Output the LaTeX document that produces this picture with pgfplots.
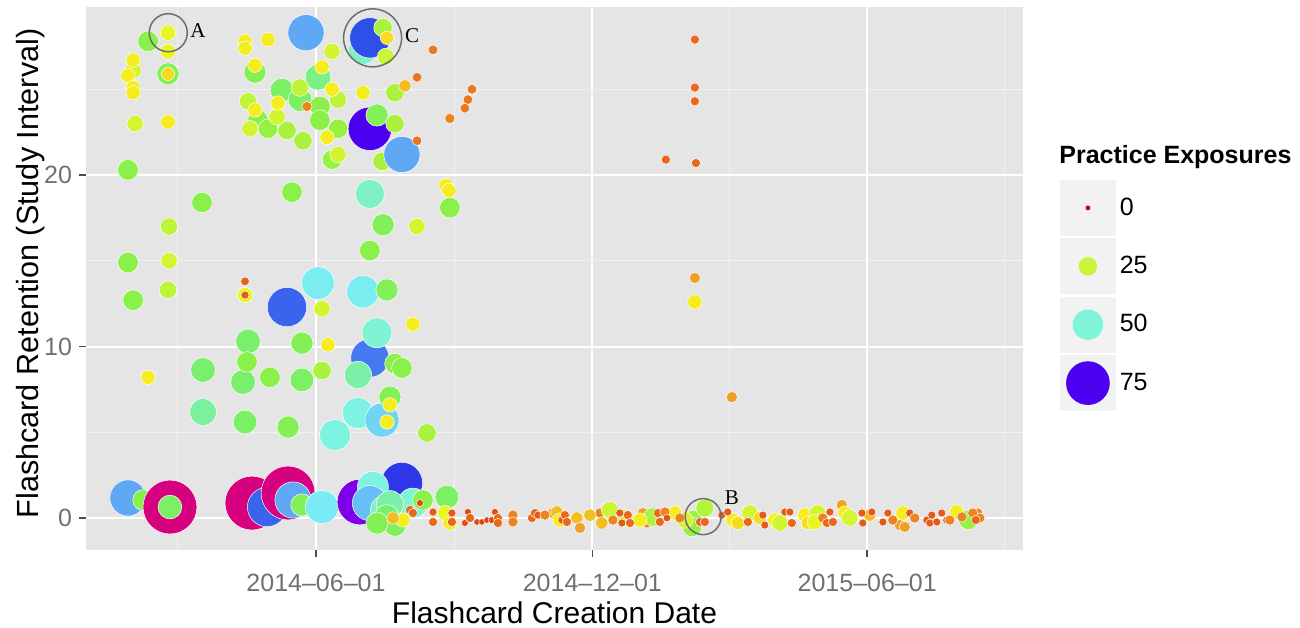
\documentclass[border=0pt]{standalone}
\usepackage{fontspec}
\setmainfont{Liberation Sans}
\newfontfamily\annfont{Liberation Serif}
\usepackage{pgfplots}
\usepackage{pgfplotstable}
\pgfplotsset{compat=1.18}
\definecolor{panelbg}{HTML}{E5E5E5}
\definecolor{gridminor}{HTML}{F2F2F2}
\definecolor{tickgray}{HTML}{707070}
\definecolor{tickc}{HTML}{4D4D4D}
\definecolor{keybg}{HTML}{F2F2F2}
\definecolor{annot}{HTML}{6E6E6E}
\definecolor{kzero}{RGB}{175,15,45}
\definecolor{ktwentyfive}{RGB}{200,245,55}
\definecolor{kfifty}{RGB}{128,245,220}
\definecolor{kseventyfive}{RGB}{75,0,240}

\pgfplotstableread{
d r e
31.1 27.3 48
35.7 28.0 70
-6.6 28.3 62
35.7 22.7 76
-19.2 12.3 68
35.7 9.33 66
1.3 13.7 55
31.1 13.2 55
40.4 10.8 50
27.8 6.12 52
12.6 4.84 52
43.7 5.71 58
35.7 18.9 48
27.8 8.34 45
-74.8 6.18 44
1.3 25.7 42
-45.0 10.3 40
-48.3 7.93 40
-74.8 8.63 40
-22.5 24.95 38
-10.6 24.4 38
-9.3 8.05 38
-47.0 5.6 38
-18.5 5.3 35
-9.3 10.2 35
47.0 13.3 35
40.4 23.5 35
44.4 17.1 35
-98.0 25.9 35
-40.4 26.0 35
49.0 7.05 35
-124.5 20.3 32
-75.5 18.4 32
35.7 15.6 32
-124.5 14.9 32
-15.9 19.0 32
88.7 18.1 32
-121.1 12.7 32
-45.7 9.1 32
-30.5 8.2 32
52.3 9.0 32
56.9 8.75 32
73.5 4.96 28
-111.2 27.8 32
2.6 24.0 32
-38.4 23.2 32
-31.8 22.7 30
-19.2 22.6 28
14.6 22.7 30
2.6 23.2 32
52.3 23.0 28
52.3 24.8 28
43.7 20.8 28
56.9 21.2 62
10.6 20.9 30
4.0 8.6 28
44.4 28.6 28
46.3 26.9 25
-98.0 28.3 22
-98.0 27.2 22
-121.1 26.1 24
-119.8 23.0 24
-97.3 17.0 26
-97.3 15.0 24
-98.0 13.3 26
66.9 17.0 24
10.6 27.2 24
-10.6 25.1 26
-45.0 24.3 26
-25.8 23.4 24
-43.7 22.7 24
-8.6 22.0 28
14.6 24.4 26
14.6 21.2 24
4.0 12.2 24
-47.0 13.0 22
-6.0 24.0 12
-98.0 25.9 18
-121.1 26.7 20
-124.5 25.8 20
-121.1 25.1 20
-121.1 24.8 20
-98.0 23.1 20
-47.0 27.8 20
-47.0 27.4 20
-31.8 27.9 20
4.0 26.3 20
-40.4 26.4 20
-40.4 23.8 20
-25.2 24.2 20
10.6 25.0 20
7.3 22.2 20
31.1 24.8 20
47.0 28.0 18
58.9 25.2 16
86.1 19.4 20
88.1 19.1 20
64.2 11.3 20
7.9 10.1 20
-111.2 8.2 20
49.0 6.6 20
47.0 5.6 20
250.9 12.6 20
250.9 14.0 14
275.4 7.05 14
250.9 27.9 10
250.9 25.1 10
250.9 24.3 10
231.7 20.9 10
251.6 20.7 10
77.5 27.3 11
66.9 25.7 11
103.3 25.0 11
100.6 24.4 11
98.6 23.9 11
88.7 23.3 12
66.9 22.0 11
-47.0 13.8 9
-47.0 13.0 8
-124.5 1.17 62
-114.5 1.05 32
-96.7 0.64 96
-96.7 0.64 38
-42.4 0.87 96
-32.4 0.64 68
-18.5 1.46 96
-15.2 1.05 62
-9.3 0.76 35
4.0 0.64 56
29.1 0.93 80
56.9 2.04 72
37.7 1.81 52
35.7 0.87 60
45.7 0.47 48
64.2 0.87 50
49.0 0.8 45
47.0 0.06 40
52.3 -0.41 36
40.4 -0.3 35
86.7 1.22 38
70.8 1.05 32
57.6 -0.12 20
51.0 0.0 16
62.3 0.47 10
85.4 0.29 22
88.7 -0.29 20
156.9 0.29 14
159.5 0.35 16
172.8 0.0 16
174.8 -0.58 14
188.0 0.29 12
189.3 -0.29 16
194.6 0.47 25
216.5 0.29 14
219.1 -0.29 12
223.1 0.06 28
237.7 0.29 20
249.6 -0.12 30
257.5 0.58 27
249.0 -0.52 30
276.1 -0.12 20
279.4 -0.29 18
287.3 0.29 24
303.9 -0.12 20
307.2 -0.29 24
323.7 0.17 20
325.7 -0.29 18
332.3 0.29 24
348.2 0.76 14
350.2 0.29 20
353.5 0.0 24
386.6 -0.41 14
388.6 0.29 20
389.9 -0.52 14
424.3 0.35 20
432.0 -0.1 30
438.2 0.29 12
439.6 0.0 12
181.4 0.17 16
204.6 0.0 24
214.6 -0.12 20
244.3 -0.12 24
161.5 -0.12 20
294.0 0.0 18
330.3 -0.23 22
366.7 0.17 16
64.2 0.29 10
68.8 0.87 6
77.5 0.35 8
77.5 -0.23 10
90.0 0.29 8
90.0 -0.23 10
100.6 0.35 6
98.6 -0.29 6
102.0 0.0 10
106.6 -0.23 5
109.9 -0.23 5
113.2 -0.12 5
116.5 -0.12 6
118.5 0.35 6
120.5 0.0 10
120.5 -0.29 10
130.4 0.17 12
130.4 -0.23 12
143.0 0.0 10
145.0 0.29 10
147.0 0.17 8
151.6 0.17 12
162.9 -0.12 8
164.8 0.17 10
166.2 -0.23 10
196.6 -0.12 12
201.2 0.29 8
202.6 -0.29 8
206.5 0.17 10
207.9 -0.29 10
226.4 0.29 10
227.7 -0.23 10
231.1 0.35 12
232.4 0.0 7
241.0 0.0 12
254.3 -0.23 10
257.5 -0.23 10
268.8 0.17 8
272.7 0.35 8
286.0 -0.23 10
295.9 0.17 8
297.2 -0.41 8
310.5 0.35 8
313.8 0.35 8
315.1 -0.29 10
335.6 0.0 12
340.3 0.35 8
338.3 -0.29 10
342.3 -0.23 10
361.5 0.29 8
362.1 -0.29 8
368.1 0.35 8
375.4 -0.23 8
378.7 0.29 8
382.0 -0.12 12
393.2 0.29 8
396.5 0.0 12
404.5 -0.12 8
406.5 -0.29 8
407.8 0.17 8
411.1 -0.23 8
414.4 0.29 8
417.7 -0.12 8
419.7 -0.12 12
427.7 0.06 12
434.9 0.29 12
436.9 -0.12 10
}\ptdata

\begin{document}
\begin{tikzpicture}
\useasboundingbox (-43pt,-38.5pt) rectangle (607pt,275pt);
\begin{axis}[
  scale only axis, width=468.5pt, height=271.5pt,
  at={(0pt,0pt)}, anchor=south west,
  xmin=-152.3, xmax=468.2, ymin=-1.866, ymax=29.8,
  xtick={0,183,365},
  xticklabels={2014--06--01,2014--12--01,2015--06--01},
  minor xtick={-91.5,91.5,274,456},
  ytick={0,10,20}, minor ytick={5,15,25},
  grid=both,
  major grid style={white, line width=1pt},
  minor grid style={gridminor, line width=0.5pt},
  axis background/.style={fill=panelbg},
  axis line style={draw=none},
  tick pos=left, tick align=outside,
  major tick length=3.5pt, minor tick length=0pt,
  tick style={tickc, line width=0.7pt},
  /pgf/number format/assume math mode=true,
  tick label style={font=\fontsize{12.5}{15}\selectfont, text=tickgray},
  xticklabel style={anchor=base, yshift=-17.2pt},
  yticklabel style={anchor=east, xshift=0pt},
  xlabel={Flashcard Creation Date},
  ylabel={Flashcard Retention (Study Interval)},
  every axis x label/.style={at={(axis description cs:0.5,0)}, yshift=-36.8pt, anchor=base, font=\fontsize{15}{18}\selectfont},
  every axis y label/.style={at={(axis description cs:0,0.5)}, xshift=-23.5pt, yshift=2.5pt, rotate=90, anchor=base, font=\fontsize{15.3}{18}\selectfont},
  colormap={gg}{rgb255(0pt)=(190,20,40) rgb255(3pt)=(215,50,25) rgb255(6pt)=(225,75,20)
    rgb255(10pt)=(232,105,28) rgb255(14pt)=(240,160,40) rgb255(18pt)=(245,220,30)
    rgb255(21pt)=(245,245,30) rgb255(25pt)=(200,245,55) rgb255(31pt)=(140,240,70)
    rgb255(40pt)=(120,240,110) rgb255(46pt)=(125,240,180) rgb255(51pt)=(128,245,220)
    rgb255(56pt)=(120,235,245) rgb255(61pt)=(100,180,245) rgb255(66pt)=(70,120,240)
    rgb255(71pt)=(40,70,230) rgb255(76pt)=(75,0,240) rgb255(82pt)=(150,0,225)
    rgb255(90pt)=(215,0,150) rgb255(100pt)=(215,0,110)},
  point meta min=0, point meta max=100,
  legend style={at={(1.0395,0.6814)}, anchor=north west, draw=none, fill=none,
    inner sep=0pt, outer sep=0pt, row sep=1.3pt,
    font=\fontsize{12.5}{15}\selectfont, cells={anchor=west}},
  legend cell align=left,
]
\addplot[scatter, only marks, mark=*, forget plot, scatter src=explicit,
  line width=0.25pt,
  visualization depends on={1+0.13*\thisrow{e} \as \msz},
  scatter/use mapped color={draw=white, fill=mapped color},
  scatter/@pre marker code/.append style={/tikz/mark size=\msz}]
  table[x=d, y=r, meta=e] {\ptdata};

\addplot[only marks, mark=o, forget plot, mark size=9.5pt, mark options={draw=annot, line width=0.75pt}] coordinates {(-97.8,28.3)};
\addplot[only marks, mark=o, forget plot, mark size=14.5pt, mark options={draw=annot, line width=0.75pt}] coordinates {(37.5,28.0)};
\addplot[only marks, mark=o, forget plot, mark size=9pt, mark options={draw=annot, line width=0.75pt}] coordinates {(256.4,0.08)};
\node[font=\annfont\fontsize{10.5}{12}\selectfont] at (axis cs:-78.1,28.4) {A};
\node[font=\annfont\fontsize{10.5}{12}\selectfont] at (axis cs:63.6,28.1) {C};
\node[font=\annfont\fontsize{10.5}{12}\selectfont] at (axis cs:275.4,1.17) {B};

\addlegendimage{legend image code/.code={\fill[keybg] (0pt,-13.75pt) rectangle (27.5pt,13.75pt); \fill[kzero] (13.75pt,0pt) circle (1pt);}}
\addlegendentry{0}
\addlegendimage{legend image code/.code={\fill[keybg] (0pt,-13.75pt) rectangle (27.5pt,13.75pt); \fill[ktwentyfive] (13.75pt,0pt) circle (4.4pt);}}
\addlegendentry{25}
\addlegendimage{legend image code/.code={\fill[keybg] (0pt,-13.75pt) rectangle (27.5pt,13.75pt); \fill[kfifty] (13.75pt,0pt) circle (7.4pt);}}
\addlegendentry{50}
\addlegendimage{legend image code/.code={\fill[keybg] (0pt,-13.75pt) rectangle (27.5pt,13.75pt); \fill[kseventyfive] (13.75pt,0pt) circle (10.7pt);}}
\addlegendentry{75}
\end{axis}
\node[anchor=base west, inner sep=0pt, font=\bfseries\fontsize{12.5}{15}\selectfont] at (486.5pt,193.3pt) {Practice Exposures};
\end{tikzpicture}
\end{document}
